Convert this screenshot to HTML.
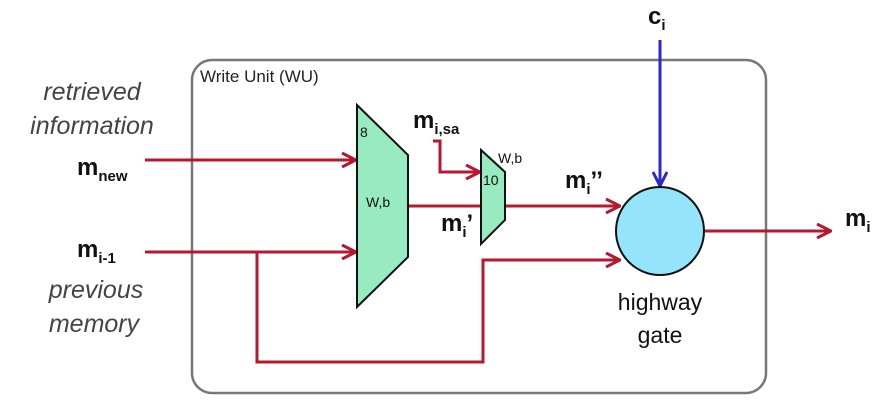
<!DOCTYPE html>
<html><head><style>
body{margin:0;background:#fff}
svg{display:block}
text{font-family:"Liberation Sans",sans-serif}
</style></head><body>
<svg width="892" height="412" viewBox="0 0 892 412" xmlns="http://www.w3.org/2000/svg">
<defs>
<marker id="ar2" markerWidth="16" markerHeight="16" refX="15" refY="8" orient="auto" markerUnits="userSpaceOnUse">
<path d="M1,1 L15,8 L1,15" fill="none" stroke="#b5182f" stroke-width="3"/></marker>
<marker id="ab" markerWidth="16" markerHeight="16" refX="15" refY="8" orient="auto" markerUnits="userSpaceOnUse">
<path d="M1,1 L15,8 L1,15" fill="none" stroke="#2a2ad0" stroke-width="3"/></marker>
</defs>
<rect x="192" y="60" width="574" height="333" rx="20" fill="none" stroke="#777" stroke-width="2.5"/>
<text x="200" y="82" font-size="17" fill="#222">Write Unit (WU)</text>
<g stroke="#b5182f" stroke-width="3" fill="none">
<line x1="145" y1="160" x2="356" y2="160" marker-end="url(#ar2)"/>
<line x1="145" y1="252" x2="356" y2="252" marker-end="url(#ar2)"/>
<polyline points="257,252 257,362 483,362 483,260 620,260" marker-end="url(#ar2)"/>
<line x1="408" y1="206" x2="481" y2="206"/>
<line x1="505" y1="206" x2="620" y2="206" marker-end="url(#ar2)"/>
<polyline points="433,141 440,141 440,172 480,172" marker-end="url(#ar2)"/>
<line x1="705" y1="231" x2="831" y2="231" marker-end="url(#ar2)"/>
</g>
<line x1="660" y1="40" x2="660" y2="186" stroke="#2a2ad0" stroke-width="3" marker-end="url(#ab)" />
<polygon points="357,105 408,155 408,257 357,307" fill="#98ebc0" stroke="#111" stroke-width="2"/>
<polygon points="481,150 505,172 505,220 481,244" fill="#98ebc0" stroke="#111" stroke-width="2"/>
<circle cx="660" cy="231" r="44" fill="#94e4fc" stroke="#111" stroke-width="2"/>
<text x="360" y="137" font-size="14" fill="#111">8</text>
<text x="366" y="207" font-size="14" fill="#111">W,b</text>
<text x="483" y="185" font-size="14" fill="#111">10</text>
<text x="498" y="163" font-size="14" fill="#111">W,b</text>
<text x="660" y="310" font-size="23" fill="#111" text-anchor="middle">highway</text>
<text x="660" y="343" font-size="23" fill="#111" text-anchor="middle">gate</text>
<g font-size="25" font-style="italic" fill="#444" text-anchor="middle">
<text x="92" y="100">retrieved</text>
<text x="92" y="134">information</text>
<text x="96" y="298">previous</text>
<text x="94" y="332">memory</text>
</g>
<g font-weight="bold" fill="#111">
<text x="77" y="175" font-size="24">m<tspan font-size="15" dy="6">new</tspan></text>
<text x="77" y="257" font-size="24">m<tspan font-size="15" dy="6">i-1</tspan></text>
<text x="413" y="128" font-size="24">m<tspan font-size="15" dy="6">i,sa</tspan></text>
<text x="441" y="231" font-size="24">m<tspan font-size="15" dy="6">i</tspan><tspan dy="-6">’</tspan></text>
<text x="565" y="188" font-size="24">m<tspan font-size="15" dy="6">i</tspan><tspan dy="-6">’’</tspan></text>
<text x="648" y="24" font-size="24">c<tspan font-size="15" dy="6">i</tspan></text>
<text x="845" y="226" font-size="24">m<tspan font-size="15" dy="6">i</tspan></text>
</g>
</svg>
</body></html>
